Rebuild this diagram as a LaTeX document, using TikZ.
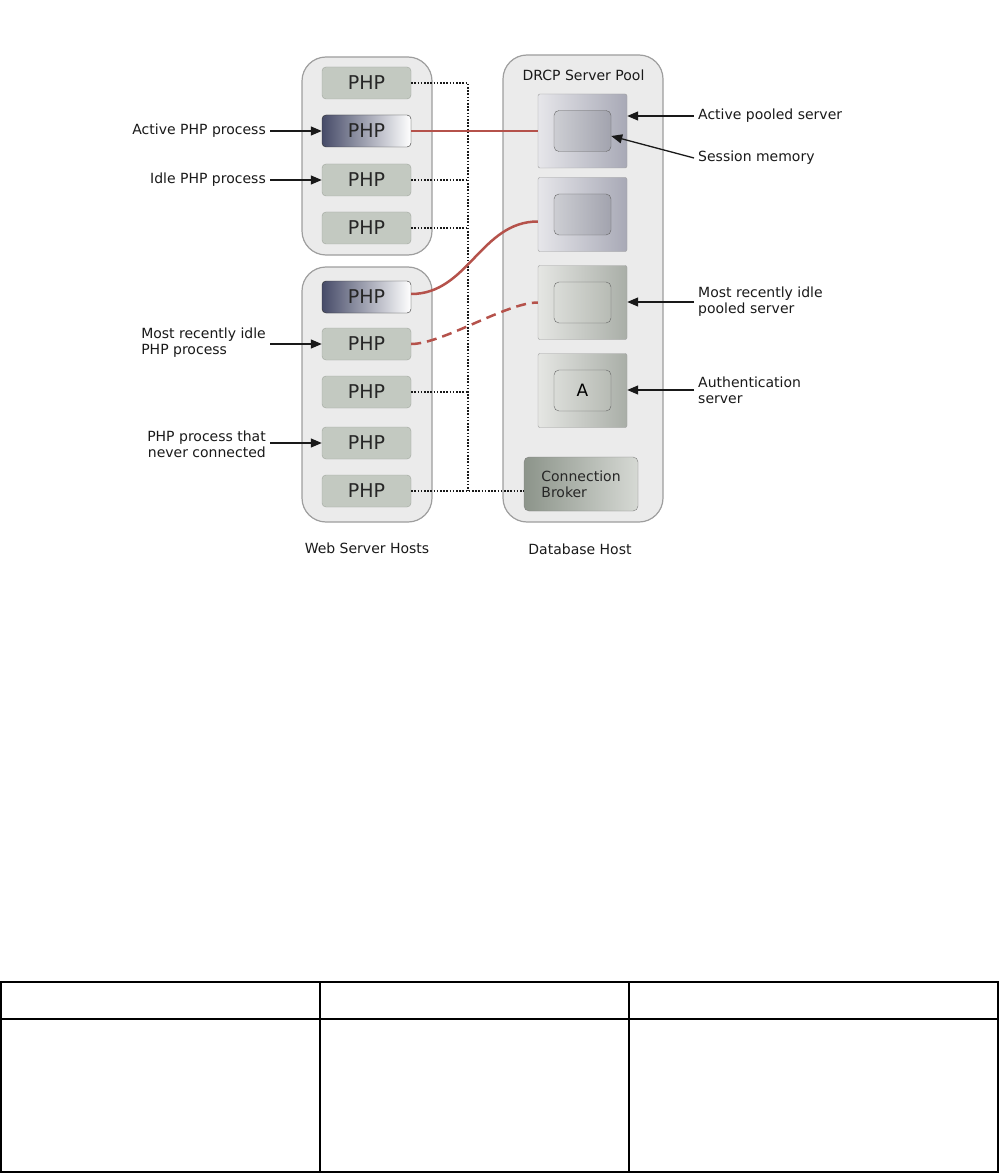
\documentclass[tikz,border=0pt]{standalone}
\usepackage{fontspec}
\setmainfont{DejaVu Sans}
\usetikzlibrary{arrows.meta, positioning, calc}
\definecolor{hostfill}{HTML}{EBEBEB}
\definecolor{hostdraw}{HTML}{9E9E9E}
\definecolor{phpfill}{HTML}{C3C9C1}
\definecolor{phpdraw}{HTML}{A0A69E}
\definecolor{activedark}{HTML}{464B68}
\definecolor{svblueL}{HTML}{E6E6EA}
\definecolor{svblueR}{HTML}{A8A9B6}
\definecolor{cellblueL}{HTML}{CDCED3}
\definecolor{cellblueR}{HTML}{A2A3AE}
\definecolor{svgreenL}{HTML}{E5E6E3}
\definecolor{svgreenR}{HTML}{A9AEA7}
\definecolor{cellgreenL}{HTML}{DADCD8}
\definecolor{cellgreenR}{HTML}{B7BBB4}
\definecolor{brokerL}{HTML}{8C948A}
\definecolor{brokerR}{HTML}{D6D9D4}
\definecolor{linkred}{HTML}{B5524B}
\newcommand{\lblfont}{\fontsize{14}{16}\selectfont}

\begin{document}
\begin{tikzpicture}[x=1pt, y=-1pt,
    host/.style={draw=hostdraw, fill=hostfill, line width=1.2pt, rounded corners=24pt, inner sep=0pt},
    php/.style={draw=phpdraw, fill=phpfill, rounded corners=4pt, minimum width=89pt, minimum height=32pt,
      inner sep=0pt, font=\fontsize{19}{22}\selectfont, text=black!85},
    phpact/.style={php, draw=black!80, left color=activedark, middle color=activedark!55!white, right color=white},
    server/.style={draw=hostdraw, left color=sv#1L, right color=sv#1R, rounded corners=2pt,
      minimum width=89pt, minimum height=74pt, inner sep=0pt},
    cell/.style={draw=black!60, left color=cell#1L, right color=cell#1R, rounded corners=5pt,
      minimum width=57pt, minimum height=41pt, inner sep=0pt, font=\fontsize{17}{20}\selectfont},
    lbl/.style={font=\lblfont, inner sep=4pt, text=black!90},
    pointer/.style={-{Triangle[length=11pt, width=9pt]}, line width=1.3pt, black!90},
    bus/.style={black!90, line width=1.3pt, dash pattern=on 1.6pt off 1.6pt},
    pconn/.style={linkred, line width=2.5pt}]
  \useasboundingbox (0,0) rectangle (999,1174);

  % hosts
  \node[host, minimum width=130pt, minimum height=198pt] (webtop) at (367,156) {};
  \node[host, minimum width=130pt, minimum height=255pt] (webbot) at (367,394.5) {};
  \node[host, minimum width=160pt, minimum height=467pt] (dbhost) at (583,288.5) {};
  \node[lbl] (pooltitle) at (583.5,75) {DRCP Server Pool};
  \node[lbl] (webcap) at (367,548) {Web Server Hosts};
  \node[lbl] (dbcap) at (580,549) {Database Host};

  % PHP processes
  \foreach \y/\s [count=\i] in {83/php, 131/phpact, 180/php, 228/php} {
    \node[\s] (pa\i) at (366.5,\y) {PHP};
  }
  \foreach \y/\s [count=\i] in {297/phpact, 344/php, 392/php, 443/php, 491/php} {
    \node[\s] (pb\i) at (366.5,\y) {PHP};
  }

  % pooled servers
  \foreach \y/\k/\t [count=\i] in {131/blue/{}, 214.5/blue/{}, 302.5/green/{}, 390.5/green/A} {
    \node[server=\k] (sv\i) at (582.5,\y) {};
    \node[cell=\k] (in\i) at (sv\i) {\t};
  }
  \node[draw=black!50, left color=brokerL, right color=brokerR, rounded corners=5pt, minimum width=114pt,
    minimum height=54pt, inner sep=0pt, align=left, font=\lblfont, text=black!85] (broker) at (581,484)
    {Connection\\Broker};

  % dotted connections to the broker
  \coordinate (bus) at (468,0);
  \draw[bus] (pa1.east) -- (pa1.east -| bus) -- (pb5.east -| bus);
  \foreach \n in {pa3, pa4, pb3} {
    \draw[bus] (\n.east) -- (\n.east -| bus);
  }
  \draw[bus] (pb5.east) -- (pb5.east -| broker.west);

  % links to pooled servers
  \draw[pconn] (pa2.east) -- (sv1.west);
  \draw[pconn] ($(pb1.east)+(0,-3)$) to[out=0, in=180] ($(sv2.west)+(0,7)$);
  \draw[pconn, dash pattern=on 10pt off 6pt] (pb2.east) to[out=0, in=180, looseness=0.6] (sv3.west);

  % left labels
  \node[lbl, anchor=east] (actlbl) at (270,131) {Active PHP process};
  \node[lbl, anchor=east] (idlelbl) at (270,180) {Idle PHP process};
  \node[lbl, anchor=east, align=left] (recentlbl) at (270,343) {Most recently idle\\PHP process};
  \node[lbl, anchor=east, align=right] (neverlbl) at (270,444) {PHP process that\\never connected};
  \draw[pointer] (actlbl.east) -- (pa2.west);
  \draw[pointer] (idlelbl.east) -- (pa3.west);
  \draw[pointer] (recentlbl.east |- pb2) -- (pb2.west);
  \draw[pointer] (neverlbl.east |- pb4) -- (pb4.west);

  % right labels
  \node[lbl, anchor=west] (poollbl) at (694,116) {Active pooled server};
  \node[lbl, anchor=west] (memlbl) at (694,158) {Session memory};
  \node[lbl, anchor=west, align=left] (idlesvlbl) at (694,302) {Most recently idle\\pooled server};
  \node[lbl, anchor=west, align=left] (authlbl) at (694,390) {Authentication\\server};
  \draw[pointer] (poollbl.west) -- (poollbl.west -| sv1.east);
  \draw[pointer] (memlbl.west) -- ($(in1.east)+(0,5)$);
  \draw[pointer] (idlesvlbl.west) -- (idlesvlbl.west -| sv3.east);
  \draw[pointer] (authlbl.west) -- (authlbl.west -| sv4.east);

  % empty table below
  \draw[line width=2pt] (1,982) rectangle (998,1172);
  \draw[line width=2pt] (1,1019) -- (998,1019);
  \draw[line width=2pt] (320,982) -- (320,1172);
  \draw[line width=2pt] (629,982) -- (629,1172);
\end{tikzpicture}
\end{document}
